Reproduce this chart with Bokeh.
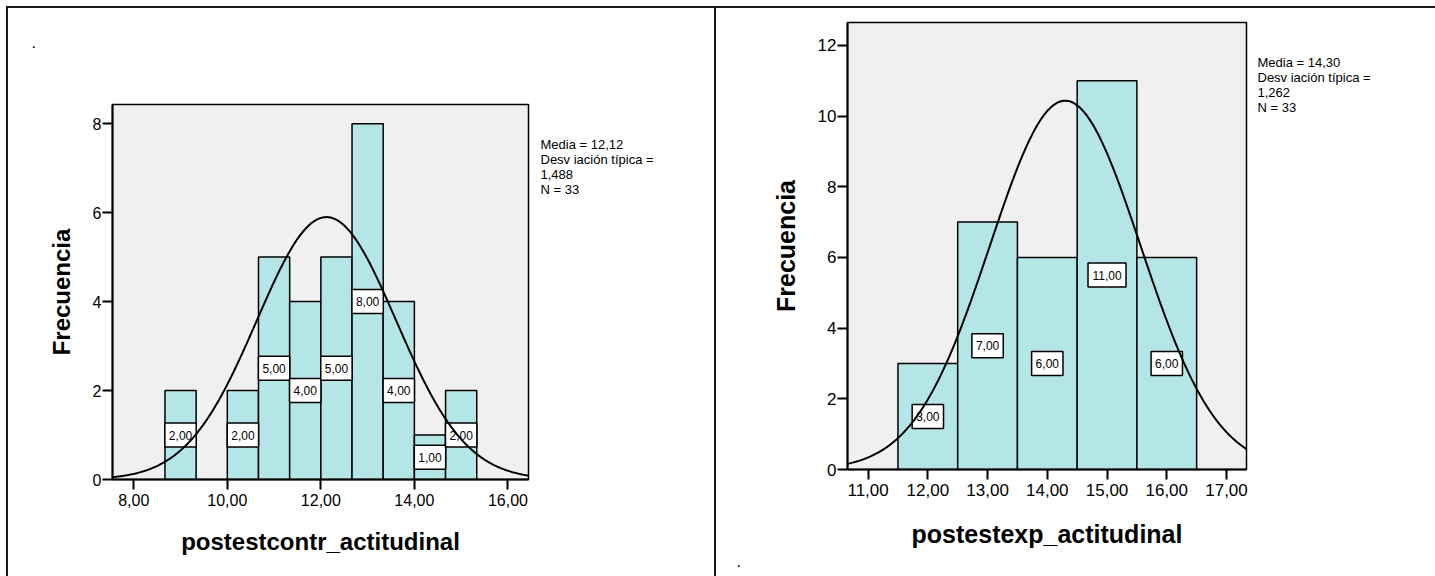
import numpy as np
from bokeh.plotting import figure
from bokeh.models import FixedTicker, Label, Range1d, ColumnDataSource
from bokeh.layouts import row
from bokeh.embed import file_html
from bokeh.resources import INLINE
from bokeh.core.properties import value

# ---------------- data ----------------
left_bin_starts = [8.6667, 10.0, 10.6667, 11.3333, 12.0, 12.6667, 13.3333, 14.0, 14.6667]
left_bin_width = 0.6667
left_counts = [2, 2, 5, 4, 5, 8, 4, 1, 2]
left_xticks = [8, 10, 12, 14, 16]
left_xtick_labels = ["8,00", "10,00", "12,00", "14,00", "16,00"]
left_yticks = [0, 2, 4, 6, 8]
left_mean, left_sd, left_n = 12.12, 1.488, 33
left_stats = ["Media = 12,12", "Desv iación típica =", "1,488", "N = 33"]
left_xlabel = "postestcontr_actitudinal"

right_bin_starts = [11.5, 12.5, 13.5, 14.5, 15.5]
right_bin_width = 1.0
right_counts = [3, 7, 6, 11, 6]
right_xticks = [11, 12, 13, 14, 15, 16, 17]
right_xtick_labels = ["11,00", "12,00", "13,00", "14,00", "15,00", "16,00", "17,00"]
right_yticks = [0, 2, 4, 6, 8, 10, 12]
right_mean, right_sd, right_n = 14.30, 1.262, 33
right_stats = ["Media = 14,30", "Desv iación típica =", "1,262", "N = 33"]
right_xlabel = "postestexp_actitudinal"

ylabel = "Frecuencia"

FONT = "Liberation Sans"
BAR = "#b4e6e7"
BG = "#f0f0f0"
INK = "#1a1a1a"


def fmt(v):
    return ("%.2f" % v).replace(".", ",")


def make_hist(width, height, fl, ft, fw, fh, xr, yr, starts, bw, counts, xticks, xtick_labels,
              yticks, mean, sd, n, stats, xlabel, stats_xy, dot_xy, tick_fs, title_fs,
              xlabel_standoff, shadow):
    fb = height - ft - fh
    fr = width - fl - fw
    p = figure(width=width, height=height, x_range=Range1d(*xr), y_range=Range1d(*yr),
               output_backend="svg", toolbar_location=None,
               min_border_left=fl, min_border_right=fr, min_border_top=ft, min_border_bottom=fb,
               styles={"box-shadow": shadow})
    p.frame_align = False
    p.background_fill_color = BG
    p.border_fill_color = None
    p.outline_line_color = "black"
    p.outline_line_width = 1.5
    p.grid.visible = False

    def to_data(cx, cy):
        return (xr[0] + (cx - fl) / fw * (xr[1] - xr[0]),
                yr[0] + (ft + fh - cy) / fh * (yr[1] - yr[0]))

    # bars
    lefts = np.array(starts)
    cnt = np.array(counts, dtype=float)
    p.quad(left=lefts, right=lefts + bw, bottom=0, top=cnt,
           fill_color=BAR, line_color="black", line_width=1.5)

    # value boxes
    labels = [fmt(c) for c in counts]
    widths = [8 + 12 * (0.556 * sum(ch.isdigit() for ch in s) + 0.278 * s.count(",")) for s in labels]
    src = ColumnDataSource(dict(x=lefts + bw / 2, y=cnt / 2, t=labels, w=widths))
    p.rect(x="x", y="y", width="w", height=24, width_units="screen", height_units="screen",
           source=src, fill_color="white", line_color="black", line_width=1.5)
    p.text(x="x", y="y", text="t", source=src, text_align="center", text_baseline="middle",
           text_font_size="12px", text_font=value(FONT), text_color="black")

    # normal curve
    xs = np.linspace(xr[0], xr[1], 400)
    ys = n * bw * np.exp(-0.5 * ((xs - mean) / sd) ** 2) / (sd * np.sqrt(2 * np.pi))
    p.line(xs, ys, line_color="black", line_width=2)

    # axes
    p.xaxis.ticker = FixedTicker(ticks=xticks)
    p.xaxis.major_label_overrides = {t: l for t, l in zip(xticks, xtick_labels)}
    p.yaxis.ticker = FixedTicker(ticks=yticks)
    for ax in (p.xaxis[0], p.yaxis[0]):
        ax.axis_line_color = "black"
        ax.axis_line_width = 2
        ax.major_tick_line_color = "black"
        ax.major_tick_line_width = 2
        ax.major_tick_out = 10
        ax.major_tick_in = 0
        ax.minor_tick_line_color = None
        ax.major_label_text_font = FONT
        ax.major_label_text_font_size = tick_fs
        ax.major_label_text_color = "black"
        ax.axis_label_text_font = FONT
        ax.axis_label_text_font_size = title_fs
        ax.axis_label_text_font_style = "bold"
        ax.axis_label_text_color = "black"
    p.xaxis.axis_label = xlabel
    p.yaxis.axis_label = ylabel
    p.xaxis.major_label_standoff = 4
    p.yaxis.major_label_standoff = 1
    p.xaxis.axis_label_standoff = xlabel_standoff
    p.yaxis.axis_label_standoff = 15

    # stats text (right of the frame), one multi-line label
    sx, sy = stats_xy
    dx, dy = to_data(sx, sy)
    p.add_layout(Label(x=dx, y=dy, text="\n".join(stats), text_font=FONT, text_font_size="13px",
                       text_line_height=1.0, text_baseline="top", text_align="left",
                       text_color="black"), "right")
    # stray dot
    dx, dy = to_data(dot_xy[0], dot_xy[1])
    p.add_layout(Label(x=dx, y=dy, text=".", text_font=FONT, text_font_size="16px",
                       text_baseline="alphabetic", text_align="left", text_color="black"), "left")
    return p


left = make_hist(714, 576, 112, 104, 416, 375, (7.545, 16.44), (0, 8.43),
                 left_bin_starts, left_bin_width, left_counts, left_xticks, left_xtick_labels,
                 left_yticks, left_mean, left_sd, left_n, left_stats, left_xlabel,
                 (540, 136), (31, 41), "16px", "24px", 19,
                 "inset 6px 6px 0 0 #ffffff, inset 8px 8px 0 0 #1a1a1a")
right = make_hist(721, 576, 133, 22, 399, 447, (10.655, 17.335), (0, 12.645),
                  right_bin_starts, right_bin_width, right_counts, right_xticks, right_xtick_labels,
                  right_yticks, right_mean, right_sd, right_n, right_stats, right_xlabel,
                  (543, 54), (22, 560), "17px", "25px", 21,
                  "inset 0 6px 0 0 #ffffff, inset 0 8px 0 0 #1a1a1a, inset 2px 0 0 0 #1a1a1a")

layout = row(left, right)
open("out.html", "w").write(file_html(layout, INLINE))
